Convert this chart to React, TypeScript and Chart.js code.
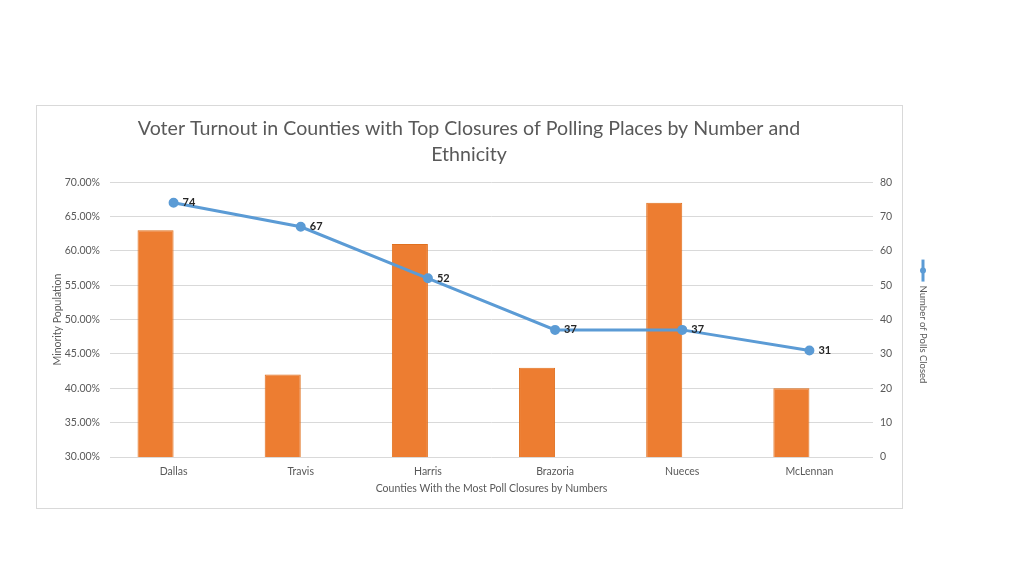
import React, { useEffect, useRef } from "react";
import { Chart, registerables } from "chart.js";

Chart.register(...registerables);

const counties = ["Dallas", "Travis", "Harris", "Brazoria", "Nueces", "McLennan"];
const minorityPopulation = [0.63, 0.42, 0.61, 0.43, 0.67, 0.40];
const pollsClosed = [74, 67, 52, 37, 37, 31];

const titleLines = [
  "Voter Turnout in Counties with Top Closures of Polling Places by Number and",
  "Ethnicity",
];
const xTitle = "Counties With the Most Poll Closures by Numbers";
const yTitle = "Minority Population";
const y1Title = "Number of Polls Closed";

const FONT = "Lato, 'Open Sans', sans-serif";
const TEXT = "#595959";
const GRID = "#D9D9D9";
const BAR = "#ED7D31";
const BAR_EDGE = "#E0701E";
const LINE = "#5B9BD5";

const frameAndLegend = {
  id: "frameAndLegend",
  beforeDraw(chart: any) {
    const { ctx, chartArea: a } = chart;
    ctx.save();
    ctx.fillStyle = "#ffffff";
    ctx.fillRect(0, 0, chart.width, chart.height);
    ctx.strokeStyle = GRID;
    ctx.lineWidth = 1;
    const l = Math.round(a.left - 74) + 0.5;
    const t = Math.round(a.top - 77) + 0.5;
    const r = Math.round(a.right + 29) + 0.5;
    const b = Math.round(a.bottom + 51) + 0.5;
    ctx.strokeRect(l, t, r - l, b - t);
    ctx.restore();
  },
  afterDraw(chart: any) {
    const { ctx, chartArea: a } = chart;
    const mid = (a.top + a.bottom) / 2;
    const x = a.right + 50;
    ctx.save();
    ctx.strokeStyle = LINE;
    ctx.lineWidth = 3;
    ctx.beginPath();
    ctx.moveTo(x, mid - 60);
    ctx.lineTo(x, mid - 38);
    ctx.stroke();
    ctx.fillStyle = LINE;
    ctx.beginPath();
    ctx.arc(x, mid - 49, 3, 0, Math.PI * 2);
    ctx.fill();
    ctx.translate(x, mid - 34);
    ctx.rotate(Math.PI / 2);
    ctx.fillStyle = TEXT;
    ctx.font = `9.5px ${FONT}`;
    ctx.textAlign = "left";
    ctx.textBaseline = "middle";
    ctx.fillText(y1Title, 0, 0);
    ctx.restore();
  },
};

const pointLabels = {
  id: "pointLabels",
  afterDatasetsDraw(chart: any) {
    const { ctx } = chart;
    const idx = chart.data.datasets.findIndex((d: any) => d.type === "line");
    const meta = chart.getDatasetMeta(idx);
    const ds = chart.data.datasets[idx];
    ctx.save();
    ctx.font = `bold 11px ${FONT}`;
    ctx.fillStyle = "#262626";
    ctx.textAlign = "left";
    ctx.textBaseline = "middle";
    meta.data.forEach((pt: any, i: number) => {
      ctx.fillText(String(ds.data[i]), pt.x + 9, pt.y);
    });
    ctx.restore();
  },
};

export default function App() {
  const ref = useRef<HTMLCanvasElement | null>(null);
  useEffect(() => {
    if (!ref.current) return;
    const chart = new Chart(ref.current, {
      type: "bar",
      data: {
        labels: counties,
        datasets: [
          {
            type: "bar",
            label: yTitle,
            data: minorityPopulation,
            backgroundColor: BAR,
            borderColor: BAR_EDGE,
            borderWidth: 1,
            barPercentage: 1,
            categoryPercentage: 0.567,
            yAxisID: "y",
            order: 1,
          },
          {
            type: "bar",
            label: "",
            data: counties.map(() => null),
            backgroundColor: "rgba(0,0,0,0)",
            barPercentage: 1,
            categoryPercentage: 0.567,
            yAxisID: "y",
            order: 2,
          },
          {
            type: "line",
            label: y1Title,
            data: pollsClosed,
            borderColor: LINE,
            backgroundColor: LINE,
            borderWidth: 3,
            pointRadius: 3.5,
            pointBackgroundColor: LINE,
            pointBorderColor: LINE,
            tension: 0,
            yAxisID: "y1",
            order: 0,
          } as any,
        ],
      },
      options: {
        responsive: false,
        animation: false,
        layout: { padding: { left: 40, right: 126, top: 116, bottom: 74 } },
        plugins: {
          legend: { display: false },
          tooltip: { enabled: false },
          title: {
            display: true,
            text: titleLines,
            color: TEXT,
            font: { family: FONT, size: 19.6, weight: "normal", lineHeight: 1.33 },
            padding: { top: 0, bottom: 14 },
          },
        },
        scales: {
          x: {
            grid: { display: false, drawTicks: false },
            border: { display: false },
            ticks: { color: TEXT, font: { family: FONT, size: 10.5 }, padding: 8 },
            title: {
              display: true,
              text: xTitle,
              color: TEXT,
              font: { family: FONT, size: 10.5 },
              padding: { top: 0, bottom: 7 },
            },
            afterFit: (s: any) => { s.height = 45; },
          },
          y: {
            position: "left",
            min: 0.3,
            max: 0.7,
            grid: { color: GRID, drawTicks: false },
            border: { display: false },
            ticks: {
              stepSize: 0.05,
              color: TEXT,
              font: { family: FONT, size: 10.5 },
              padding: 10,
              callback: (v: any) => (Number(v) * 100).toFixed(2) + "%",
            },
            title: {
              display: true,
              text: yTitle,
              color: TEXT,
              font: { family: FONT, size: 10.5 },
              padding: { top: 11, bottom: 0 },
            },
            afterFit: (s: any) => { s.width = 70; },
          },
          y1: {
            position: "right",
            min: 0,
            max: 80,
            grid: { display: false, drawTicks: false },
            border: { display: false },
            ticks: { stepSize: 10, color: TEXT, font: { family: FONT, size: 10.5 }, padding: 7 },
            afterFit: (s: any) => { s.width = 25; },
          },
        },
      } as any,
      plugins: [frameAndLegend, pointLabels],
    });
    return () => chart.destroy();
  }, []);
  return (
    <div style={{ position: "absolute", left: 0, top: 0, width: 1024, height: 576, background: "#fff" }}>
      <canvas ref={ref} width={1024} height={576} style={{ display: "block" }} />
    </div>
  );
}
